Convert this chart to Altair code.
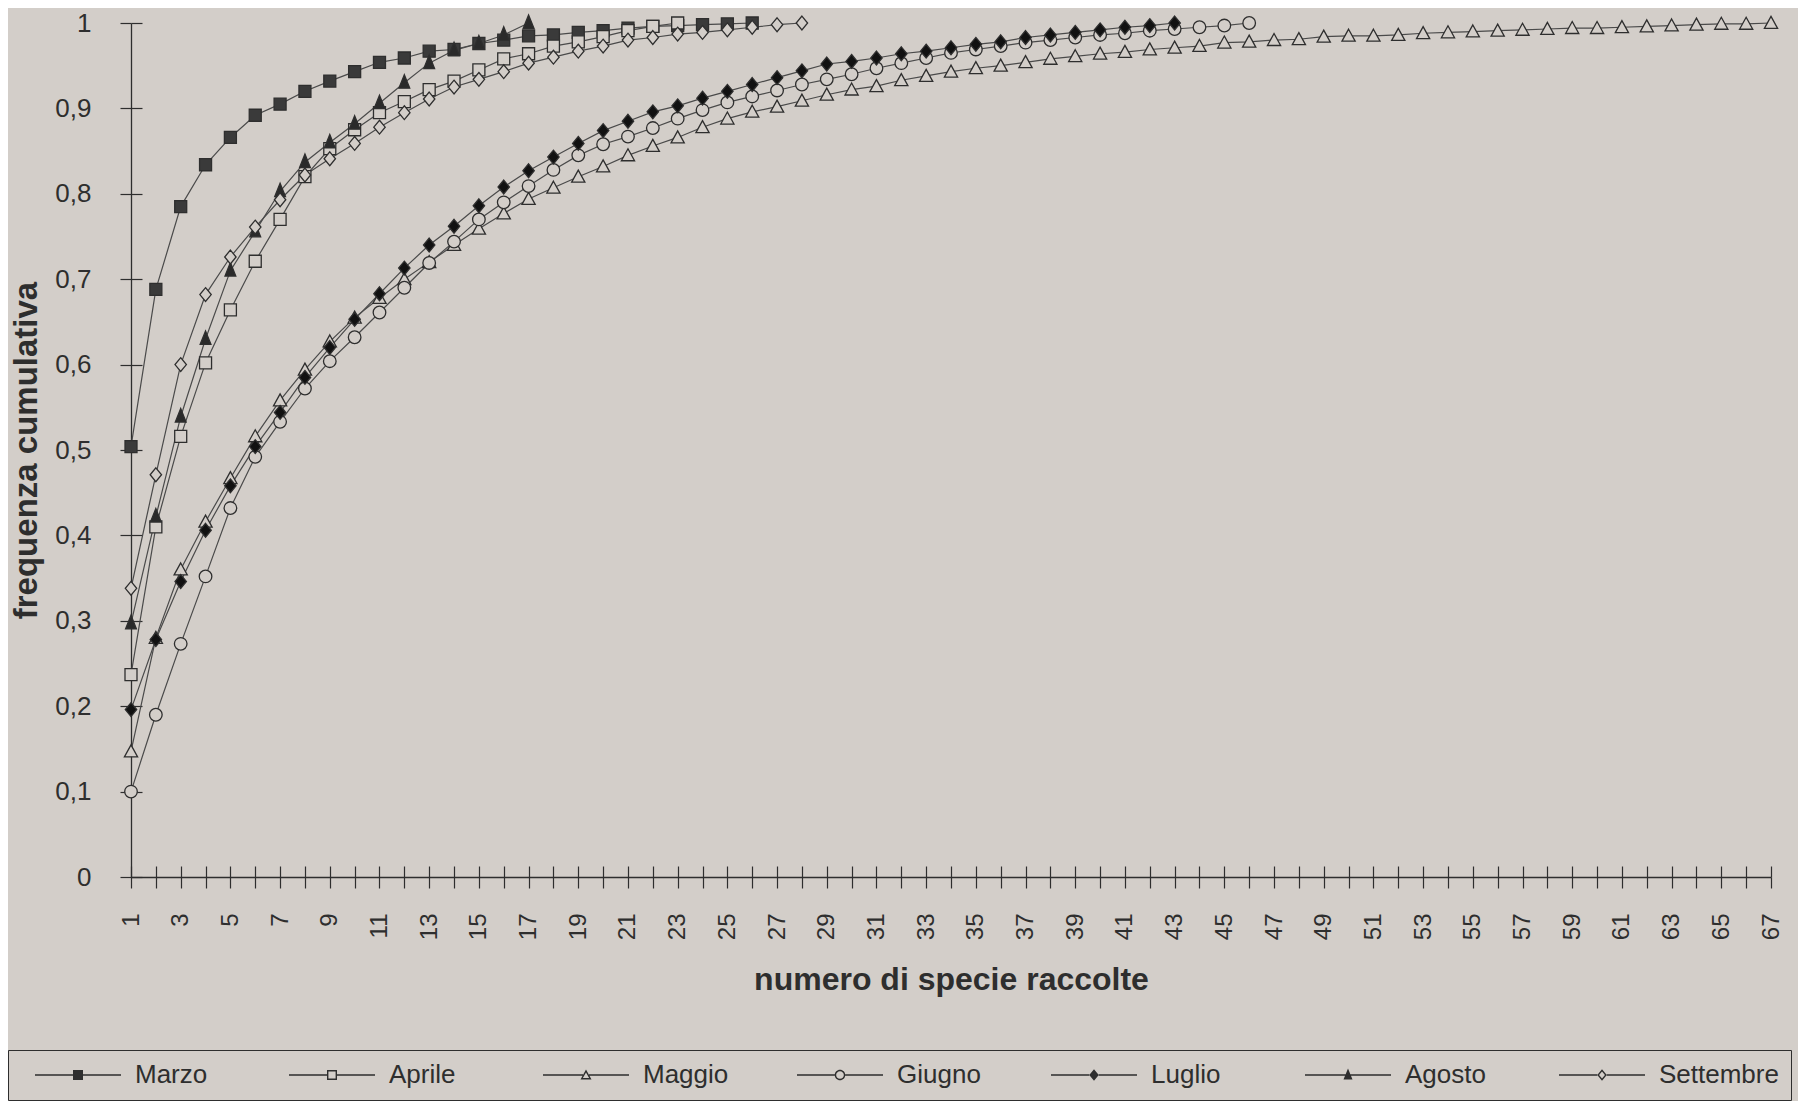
import altair as alt
import pandas as pd

# ---------------- data ----------------
months = ["Marzo", "Aprile", "Maggio", "Giugno", "Luglio", "Agosto", "Settembre"]

marzo = [0.504, 0.688, 0.785, 0.834, 0.866, 0.892, 0.905, 0.920, 0.932, 0.943,
         0.954, 0.959, 0.967, 0.969, 0.976, 0.980, 0.985, 0.986, 0.989, 0.991,
         0.994, 0.996, 0.997, 0.998, 0.999, 1.0]

aprile = [0.237, 0.410, 0.516, 0.602, 0.664, 0.721, 0.770, 0.820, 0.853, 0.875,
          0.895, 0.908, 0.922, 0.932, 0.945, 0.958, 0.964, 0.973, 0.978, 0.984,
          0.991, 0.996, 1.0]

maggio = [0.147, 0.280, 0.360, 0.416, 0.467, 0.516, 0.558, 0.594, 0.627, 0.655,
          0.678, 0.700, 0.720, 0.740, 0.759, 0.777, 0.794, 0.807, 0.820, 0.832,
          0.845, 0.856, 0.866, 0.878, 0.888, 0.896, 0.902, 0.909, 0.916, 0.922,
          0.926, 0.933, 0.938, 0.943, 0.947, 0.950, 0.954, 0.958, 0.961, 0.964,
          0.966, 0.969, 0.971, 0.973, 0.977, 0.978, 0.980, 0.981, 0.984, 0.985,
          0.985, 0.986, 0.988, 0.989, 0.990, 0.991, 0.992, 0.993, 0.994, 0.994,
          0.995, 0.996, 0.997, 0.998, 0.999, 0.999, 1.0]

giugno = [0.100, 0.190, 0.273, 0.352, 0.432, 0.492, 0.533, 0.572, 0.604, 0.632,
          0.661, 0.690, 0.719, 0.744, 0.770, 0.790, 0.809, 0.828, 0.845, 0.858,
          0.867, 0.877, 0.888, 0.898, 0.907, 0.914, 0.921, 0.928, 0.934, 0.940,
          0.947, 0.953, 0.959, 0.965, 0.969, 0.973, 0.977, 0.980, 0.983, 0.986,
          0.988, 0.991, 0.993, 0.995, 0.997, 1.0]

luglio = [0.196, 0.278, 0.346, 0.406, 0.458, 0.504, 0.544, 0.585, 0.620, 0.653,
          0.683, 0.713, 0.740, 0.762, 0.786, 0.808, 0.827, 0.843, 0.859, 0.874,
          0.885, 0.896, 0.903, 0.912, 0.920, 0.928, 0.936, 0.944, 0.952, 0.955,
          0.959, 0.964, 0.967, 0.971, 0.975, 0.978, 0.983, 0.986, 0.989, 0.992,
          0.995, 0.997, 1.0]

agosto = [0.297, 0.422, 0.539, 0.630, 0.710, 0.756, 0.803, 0.837, 0.860, 0.882,
          0.906, 0.930, 0.953, 0.968, 0.976, 0.986, 1.0]

settembre = [0.338, 0.471, 0.600, 0.682, 0.726, 0.761, 0.793, 0.822, 0.841, 0.859,
             0.878, 0.895, 0.911, 0.925, 0.934, 0.943, 0.953, 0.960, 0.967, 0.973,
             0.980, 0.983, 0.987, 0.989, 0.992, 0.995, 0.998, 1.0]

series = [marzo, aprile, maggio, giugno, luglio, agosto, settembre]

x_ticks = list(range(1, 68))
y_ticks = [round(i / 10, 1) for i in range(11)]

rows = []
for m, vals in zip(months, series):
    for i, v in enumerate(vals, start=1):
        rows.append({"mese": m, "n": i, "freq": v})
df = pd.DataFrame(rows)

# ---------------- style ----------------
BG = "#d3cec9"
INK = "#2e2e2e"
LINE = "#4a4a4a"
FONT = "Liberation Sans"
W, H = 1640, 854

# plot markers (custom symbol paths, unit = sqrt(size)/2)
sq = "M-1,-1H1V1H-1Z"
tri = "M0,-1.1L1.1,0.9H-1.1Z"
tri_tall = "M0,-1.35L0.9,0.9H-0.9Z"
circ = "M-1.05,0A1.05,1.05,0,1,0,1.05,0A1.05,1.05,0,1,0,-1.05,0Z"
dia = "M0,-1.15L0.95,0L0,1.15L-0.95,0Z"
marker_paths = [sq, sq, tri, circ, dia, tri_tall, dia]
marker_fills = ["#3a3a3a", BG, BG, BG, "#111111", "#2a2a2a", BG]

# legend symbols: a line with the marker in the middle, drawn as filled outlines
def seg(a):
    t = 0.14
    return (f"M-8.6,{-t}H{-a}V{t}H-8.6Z"
            f"M{a},{-t}H8.6V{t}H{a}Z")

lg_sq = "M-1,-1H1V1H-1Z"
lg_sq_open = "M-1,-1H1V1H-1ZM-0.72,-0.72V0.72H0.72V-0.72Z"
lg_tri_open = "M0,-1.1L1.1,0.9H-1.1ZM0,-0.518L-0.626,0.62H0.626Z"
lg_circ_open = ("M-1.05,0A1.05,1.05,0,1,0,1.05,0A1.05,1.05,0,1,0,-1.05,0Z"
                "M-0.77,0A0.77,0.77,0,1,1,0.77,0A0.77,0.77,0,1,1,-0.77,0Z")
lg_dia = "M0,-1.15L0.95,0L0,1.15L-0.95,0Z"
lg_tri = "M0,-1.3L0.9,0.9H-0.9Z"
lg_dia_open = "M0,-1.15L0.95,0L0,1.15L-0.95,0ZM0,-0.71L-0.587,0L0,0.71L0.587,0Z"

START = "M-11.6,0"
legend_paths = [
    START + seg(1.0) + lg_sq,
    START + seg(1.0) + lg_sq_open,
    START + seg(0.6) + lg_tri_open,
    START + seg(1.05) + lg_circ_open,
    START + seg(0.95) + lg_dia,
    START + seg(0.5) + lg_tri,
    START + seg(0.95) + lg_dia_open,
]

xscale = alt.Scale(domain=[1, 67], nice=False, zero=False)
yscale = alt.Scale(domain=[0, 1], nice=False, zero=True)

x_main = alt.X("n:Q", scale=xscale, axis=alt.Axis(
    values=x_ticks, labelExpr="datum.value % 2 == 1 ? datum.label : ''",
    labelAngle=270, labelAlign="right", labelBaseline="middle", labelFontSize=24,
    labelPadding=25, labelOverlap=False, labelFlush=False, labelColor=INK, labelFont=FONT,
    tickSize=11, tickColor=INK, tickWidth=1.2, domainColor=INK, domainWidth=1.3, grid=False,
    title="numero di specie raccolte", titleFontSize=32, titleFontWeight="bold",
    titleFont=FONT, titleColor=INK, titleY=112, titleBaseline="alphabetic"))

y_main = alt.Y("freq:Q", scale=yscale, axis=alt.Axis(
    values=y_ticks, labelExpr="replace(format(datum.value, '~g'), '.', ',')",
    labelFontSize=26, labelPadding=29, labelFlush=False, labelOverlap=False,
    labelColor=INK, labelFont=FONT, tickSize=11, tickColor=INK, tickWidth=1.2,
    domainColor=INK, domainWidth=1.3, grid=False,
    title="frequenza cumulativa", titleFontSize=33, titleFontWeight="bold",
    titleFont=FONT, titleColor=INK, titleAngle=270, titleX=-95, titleY=H / 2,
    titleBaseline="alphabetic", titleAlign="center"))

x_sec = alt.X("n:Q", scale=xscale, axis=alt.Axis(
    orient="top", offset=-H, values=x_ticks, labels=False, domain=False,
    tickSize=11, tickColor=INK, tickWidth=1.2, grid=False, title=""))
y_sec = alt.Y("freq:Q", scale=yscale, axis=alt.Axis(
    orient="right", offset=-W, values=y_ticks, labels=False, domain=False,
    tickSize=11, tickColor=INK, tickWidth=1.2, grid=False, title=""))

lines = alt.Chart(df).mark_line(color=LINE, strokeWidth=1.2).encode(
    x=x_main, y=y_main, detail="mese:N")

points = alt.Chart(df).mark_point(filled=True, size=144, stroke=INK, strokeWidth=1.3,
                                  opacity=1).encode(
    x=x_sec, y=y_sec,
    shape=alt.Shape("mese:N", scale=alt.Scale(domain=months, range=marker_paths), legend=None),
    fill=alt.Fill("mese:N", scale=alt.Scale(domain=months, range=marker_fills), legend=None))

leg = alt.Legend(title=None, orient="none", legendX=-123, legendY=1027,
                 direction="horizontal", columns=7, gridAlign="all", columnPadding=19,
                 padding=12, strokeColor=INK, labelFontSize=26, labelColor=INK,
                 labelFont=FONT, symbolSize=100, symbolOffset=45, labelOffset=44,
                 symbolStrokeWidth=0, symbolFillColor=INK, symbolOpacity=1,
                 labelLimit=300)

legend_layer = alt.Chart(df).mark_point(filled=True, size=100, opacity=0, color=INK,
                                        strokeWidth=0).encode(
    x=alt.X("n:Q", scale=xscale, axis=None),
    y=alt.Y("freq:Q", scale=yscale, axis=None),
    shape=alt.Shape("mese:N", scale=alt.Scale(domain=months, range=legend_paths),
                    legend=leg))

chart = alt.layer(lines, points, legend_layer).resolve_scale(
    shape="independent", fill="independent"
).resolve_axis(
    x="independent", y="independent"
).resolve_legend(
    shape="independent", fill="independent"
).properties(
    width=W, height=H,
    padding={"left": 123, "top": 15, "right": 27, "bottom": 224},
    autosize=alt.AutoSizeParams(type="none"),
    background=BG,
).configure_view(stroke="transparent")

chart.save("out.html", embed_options={"renderer": "svg", "actions": False})
